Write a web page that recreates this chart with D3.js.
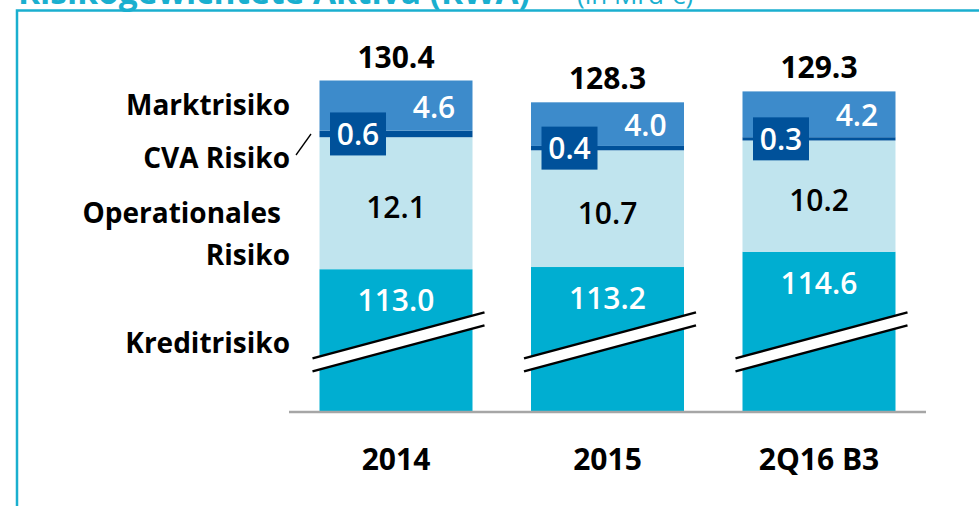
<!DOCTYPE html>
<html>
<head>
<meta charset="utf-8">
<script src="https://cdnjs.cloudflare.com/ajax/libs/d3/7.8.5/d3.min.js"></script>
<style>
  body { margin: 0; background: #fff; }
  text { font-family: "Open Sans", sans-serif; }
</style>
</head>
<body>
<script>
var svgWidth = 979;
var svgHeight = 506;

// data (Mrd €)
var categories = ["2014", "2015", "2Q16 B3"];
var kreditrisiko = [113.0, 113.2, 114.6];
var operationales = [12.1, 10.7, 10.2];
var cvaRisiko = [0.6, 0.4, 0.3];
var marktrisiko = [4.6, 4.0, 4.2];
var totals = [130.4, 128.3, 129.3];
var axisBase = 100; // broken axis starts here

var colors = {
  kredit: "#00AED1",
  oper: "#C0E4EE",
  cva: "#00519A",
  markt: "#3D8BCB",
  frame: "#1AAFCF"
};

var svg = d3.select("body").append("svg")
  .attr("width", svgWidth)
  .attr("height", svgHeight);

// frame + title (cut off at top, as in the original)
svg.append("path")
  .attr("d", "M17,506 V10.5 H979")
  .attr("fill", "none")
  .attr("stroke", colors.frame)
  .attr("stroke-width", 2.5);

var title = svg.append("text")
  .attr("x", 18)
  .attr("y", 4)
  .attr("fill", colors.frame);
title.append("tspan").attr("font-size", "33.5px").attr("font-weight", 700).text("Risikogewichtete Aktiva (RWA)");
title.append("tspan").attr("x", 577).attr("font-size", "26px").attr("font-weight", 400).text("(in Mrd €)");

var x = d3.scaleBand()
  .domain(categories)
  .range([290, 925])
  .paddingInner(0.2766)
  .paddingOuter(0.1395);

var y = d3.scaleLinear()
  .domain([axisBase, 130.3])
  .range([411, 80.5]);

var rows = categories.map(function (c, i) {
  var k = kreditrisiko[i], o = operationales[i], v = cvaRisiko[i], m = marktrisiko[i];
  return {
    cat: c, total: totals[i],
    segs: [
      { key: "kredit", y0: axisBase, y1: k, val: k },
      { key: "oper", y0: k, y1: k + o, val: o },
      { key: "cva", y0: k + o, y1: k + o + v, val: v },
      { key: "markt", y0: k + o + v, y1: k + o + v + m, val: m }
    ]
  };
});

var groups = svg.selectAll("g.bar")
  .data(rows)
  .enter().append("g")
  .attr("class", "bar")
  .attr("transform", d => `translate(${x(d.cat)},0)`);

groups.selectAll("rect.seg")
  .data(d => d.segs)
  .enter().append("rect")
  .attr("class", "seg")
  .attr("x", 0)
  .attr("width", x.bandwidth())
  .attr("y", d => y(d.y1))
  .attr("height", d => y(d.y0) - y(d.y1))
  .attr("fill", d => colors[d.key]);

var bw = x.bandwidth();
var fmt = d3.format(".1f");

// axis break band
var slope = -46 / 172;
var breakY = 342;
groups.each(function () {
  var g = d3.select(this);
  var x0 = -7, x1 = bw + 12, cx = bw / 2 + 2;
  var yA = breakY - 6.5, yB = breakY + 6.5;
  var p = function (xx, yy) { return [xx, yy + (xx - cx) * slope]; };
  g.append("path")
    .attr("d", d3.line()([p(x0, yA), p(x1, yA), p(x1, yB), p(x0, yB)]) + "Z")
    .attr("fill", "#fff");
  [yA, yB].forEach(function (yy) {
    g.append("path")
      .attr("d", d3.line()([p(x0, yy), p(x1, yy)]))
      .attr("stroke", "#000")
      .attr("stroke-width", 2.5);
  });
});

// labels
groups.append("text")
  .attr("x", bw / 2)
  .attr("y", d => y(d.segs[0].y1) + 42)
  .attr("text-anchor", "middle")
  .attr("fill", "#fff")
  .attr("font-size", "30px")
  .attr("font-weight", 600)
  .text(d => fmt(d.segs[0].val));

groups.append("text")
  .attr("x", bw / 2)
  .attr("y", d => (y(d.segs[1].y0) + y(d.segs[1].y1)) / 2 + 15)
  .attr("text-anchor", "middle")
  .attr("fill", "#000")
  .attr("font-size", "30px")
  .attr("font-weight", 600)
  .text(d => fmt(d.segs[1].val));

groups.append("text")
  .attr("x", bw / 2 + 38)
  .attr("y", d => (y(d.segs[3].y0) + y(d.segs[3].y1)) / 2 + 12)
  .attr("text-anchor", "middle")
  .attr("fill", "#fff")
  .attr("font-size", "30px")
  .attr("font-weight", 600)
  .text(d => fmt(d.segs[3].val));

groups.append("rect")
  .attr("x", 10.5)
  .attr("width", 56)
  .attr("y", d => (y(d.segs[2].y0) + y(d.segs[2].y1)) / 2 - 21.5)
  .attr("height", 43)
  .attr("fill", colors.cva);

groups.append("text")
  .attr("x", 38.5)
  .attr("y", d => (y(d.segs[2].y0) + y(d.segs[2].y1)) / 2 + 11)
  .attr("text-anchor", "middle")
  .attr("fill", "#fff")
  .attr("font-size", "30px")
  .attr("font-weight", 600)
  .text(d => fmt(d.segs[2].val));

groups.append("text")
  .attr("x", bw / 2)
  .attr("y", d => y(d.segs[3].y1) - 13)
  .attr("text-anchor", "middle")
  .attr("fill", "#000")
  .attr("font-size", "30px")
  .attr("font-weight", 700)
  .text(d => fmt(d.total));

// x axis
svg.append("line")
  .attr("x1", 289).attr("x2", 926)
  .attr("y1", 412).attr("y2", 412)
  .attr("stroke", "#A6A6A6")
  .attr("stroke-width", 2.5);

svg.selectAll("text.cat")
  .data(categories)
  .enter().append("text")
  .attr("class", "cat")
  .attr("x", d => x(d) + bw / 2)
  .attr("y", 470)
  .attr("text-anchor", "middle")
  .attr("font-size", "30px")
  .attr("font-weight", 700)
  .text(d => d);

// series names on the left
var seriesNames = [["Marktrisiko"], ["CVA Risiko"], ["Operationales", "Risiko"], ["Kreditrisiko"]];
var nameY = [115, 168, 223, 353];
seriesNames.forEach(function (lines, i) {
  lines.forEach(function (s, j) {
    svg.append("text")
      .attr("x", j === 0 && lines.length > 1 ? 281 : 290)
      .attr("y", nameY[i] + j * 42)
      .attr("text-anchor", "end")
      .attr("font-size", "28px")
      .attr("font-weight", 700)
      .text(s);
  });
});

svg.append("line")
  .attr("x1", 296).attr("y1", 155)
  .attr("x2", 311).attr("y2", 134)
  .attr("stroke", "#000")
  .attr("stroke-width", 1.3);
</script>
</body>
</html>
